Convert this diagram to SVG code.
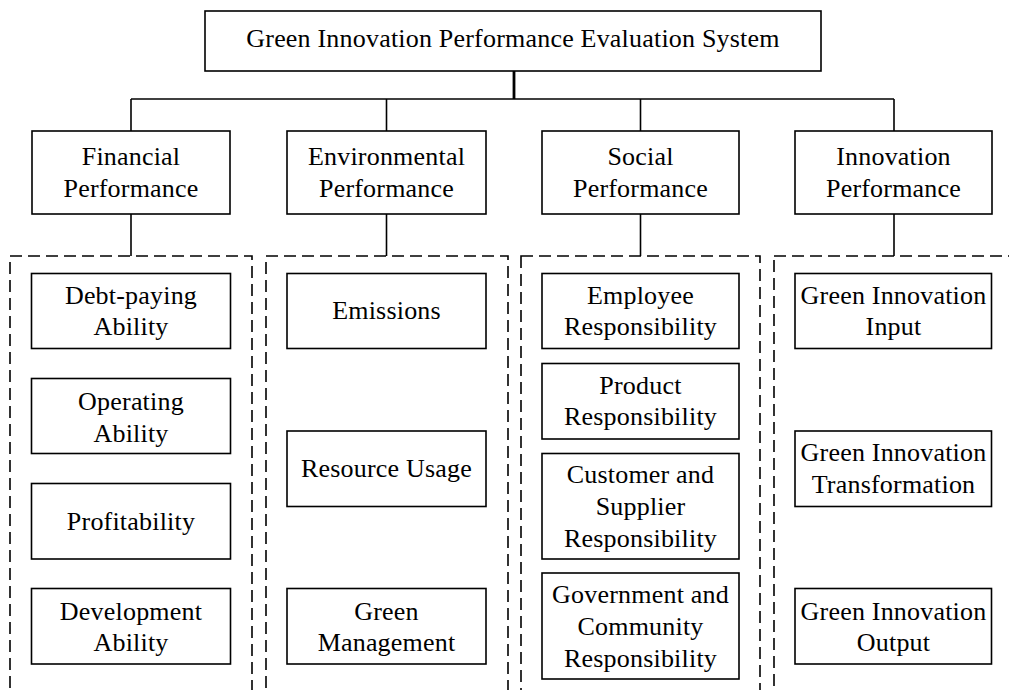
<svg xmlns="http://www.w3.org/2000/svg" width="1009" height="690" viewBox="0 0 1009 690">
  <style>
    .box { fill: #ffffff; stroke: #000000; stroke-width: 1.6; }
    .group { fill: none; stroke: #000000; stroke-width: 1.6; stroke-dasharray: 12 6; }
    .link { fill: none; stroke: #000000; stroke-width: 1.6; }
    .trunk { fill: none; stroke: #000000; stroke-width: 2.8; }
    text { font-family: "Liberation Serif", "Times New Roman", serif; font-size: 26px; letter-spacing: 0.2px; fill: #000000; text-anchor: middle; }
  </style>
  <rect width="1009" height="690" fill="#ffffff"/>

  <!-- dashed groupings under each dimension -->
  <g id="groups">
    <rect class="group" x="10" y="256" width="242" height="460"/>
    <rect class="group" x="266" y="256" width="242" height="460"/>
    <rect class="group" x="521" y="256" width="239" height="460"/>
    <rect class="group" x="774" y="256" width="250" height="460"/>
  </g>

  <!-- connectors -->
  <g id="connectors">
    <line class="trunk" x1="514" y1="71" x2="514" y2="99"/>
    <line class="link" x1="131" y1="99" x2="894" y2="99"/>
    <line class="link" x1="131" y1="99" x2="131" y2="131"/>
    <line class="link" x1="386.5" y1="99" x2="386.5" y2="131"/>
    <line class="link" x1="640.5" y1="99" x2="640.5" y2="131"/>
    <line class="link" x1="894" y1="99" x2="894" y2="131"/>
    <line class="link" x1="131" y1="214" x2="131" y2="256"/>
    <line class="link" x1="386.5" y1="214" x2="386.5" y2="256"/>
    <line class="link" x1="640.5" y1="214" x2="640.5" y2="256"/>
    <line class="link" x1="894" y1="214" x2="894" y2="256"/>
  </g>

  <!-- root -->
  <g id="root">
    <rect class="box" x="205" y="11" width="616" height="60"/>
    <text x="513" y="47">Green Innovation Performance Evaluation System</text>
  </g>

  <!-- dimensions -->
  <g id="financial">
    <rect class="box" x="32" y="131" width="198" height="83"/>
    <text x="131" y="165">Financial</text>
    <text x="131" y="197">Performance</text>
  </g>
  <g id="environmental">
    <rect class="box" x="287" y="131" width="199" height="83"/>
    <text x="386.5" y="165">Environmental</text>
    <text x="386.5" y="197">Performance</text>
  </g>
  <g id="social">
    <rect class="box" x="542" y="131" width="197" height="83"/>
    <text x="640.5" y="165">Social</text>
    <text x="640.5" y="197">Performance</text>
  </g>
  <g id="innovation">
    <rect class="box" x="795" y="131" width="197" height="83"/>
    <text x="893.5" y="165">Innovation</text>
    <text x="893.5" y="197">Performance</text>
  </g>

  <!-- financial indicators -->
  <g id="debt-paying">
    <rect class="box" x="31.5" y="273.5" width="199" height="75"/>
    <text x="131" y="303.5">Debt-paying</text>
    <text x="131" y="335">Ability</text>
  </g>
  <g id="operating">
    <rect class="box" x="31.5" y="378.5" width="199" height="75"/>
    <text x="131" y="410">Operating</text>
    <text x="131" y="441.5">Ability</text>
  </g>
  <g id="profitability">
    <rect class="box" x="31.5" y="483.5" width="199" height="75.5"/>
    <text x="131" y="530">Profitability</text>
  </g>
  <g id="development">
    <rect class="box" x="31.5" y="588.5" width="199" height="75.5"/>
    <text x="131" y="619.5">Development</text>
    <text x="131" y="651">Ability</text>
  </g>

  <!-- environmental indicators -->
  <g id="emissions">
    <rect class="box" x="287" y="273.5" width="199" height="75"/>
    <text x="386.5" y="319">Emissions</text>
  </g>
  <g id="resource-usage">
    <rect class="box" x="287" y="431" width="199" height="75.5"/>
    <text x="386.5" y="476.5">Resource Usage</text>
  </g>
  <g id="green-management">
    <rect class="box" x="287" y="588.5" width="199" height="75.5"/>
    <text x="386.5" y="619.5">Green</text>
    <text x="386.5" y="651">Management</text>
  </g>

  <!-- social indicators -->
  <g id="employee">
    <rect class="box" x="542" y="273.5" width="197" height="75"/>
    <text x="640.5" y="303.5">Employee</text>
    <text x="640.5" y="335">Responsibility</text>
  </g>
  <g id="product">
    <rect class="box" x="542" y="363.5" width="197" height="75.5"/>
    <text x="640.5" y="393.5">Product</text>
    <text x="640.5" y="425">Responsibility</text>
  </g>
  <g id="customer-supplier">
    <rect class="box" x="542" y="453.5" width="197" height="105.5"/>
    <text x="640.5" y="483">Customer and</text>
    <text x="640.5" y="515">Supplier</text>
    <text x="640.5" y="546.5">Responsibility</text>
  </g>
  <g id="government-community">
    <rect class="box" x="542" y="573" width="197" height="106"/>
    <text x="640.5" y="603">Government and</text>
    <text x="640.5" y="635">Community</text>
    <text x="640.5" y="666.5">Responsibility</text>
  </g>

  <!-- innovation indicators -->
  <g id="gi-input">
    <rect class="box" x="795" y="273.5" width="196.5" height="75"/>
    <text x="893.5" y="303.5">Green Innovation</text>
    <text x="893.5" y="335">Input</text>
  </g>
  <g id="gi-transformation">
    <rect class="box" x="795" y="431" width="196.5" height="75.5"/>
    <text x="893.5" y="461">Green Innovation</text>
    <text x="893.5" y="492.5">Transformation</text>
  </g>
  <g id="gi-output">
    <rect class="box" x="795" y="588.5" width="196.5" height="75.5"/>
    <text x="893.5" y="619.5">Green Innovation</text>
    <text x="893.5" y="651">Output</text>
  </g>
</svg>
